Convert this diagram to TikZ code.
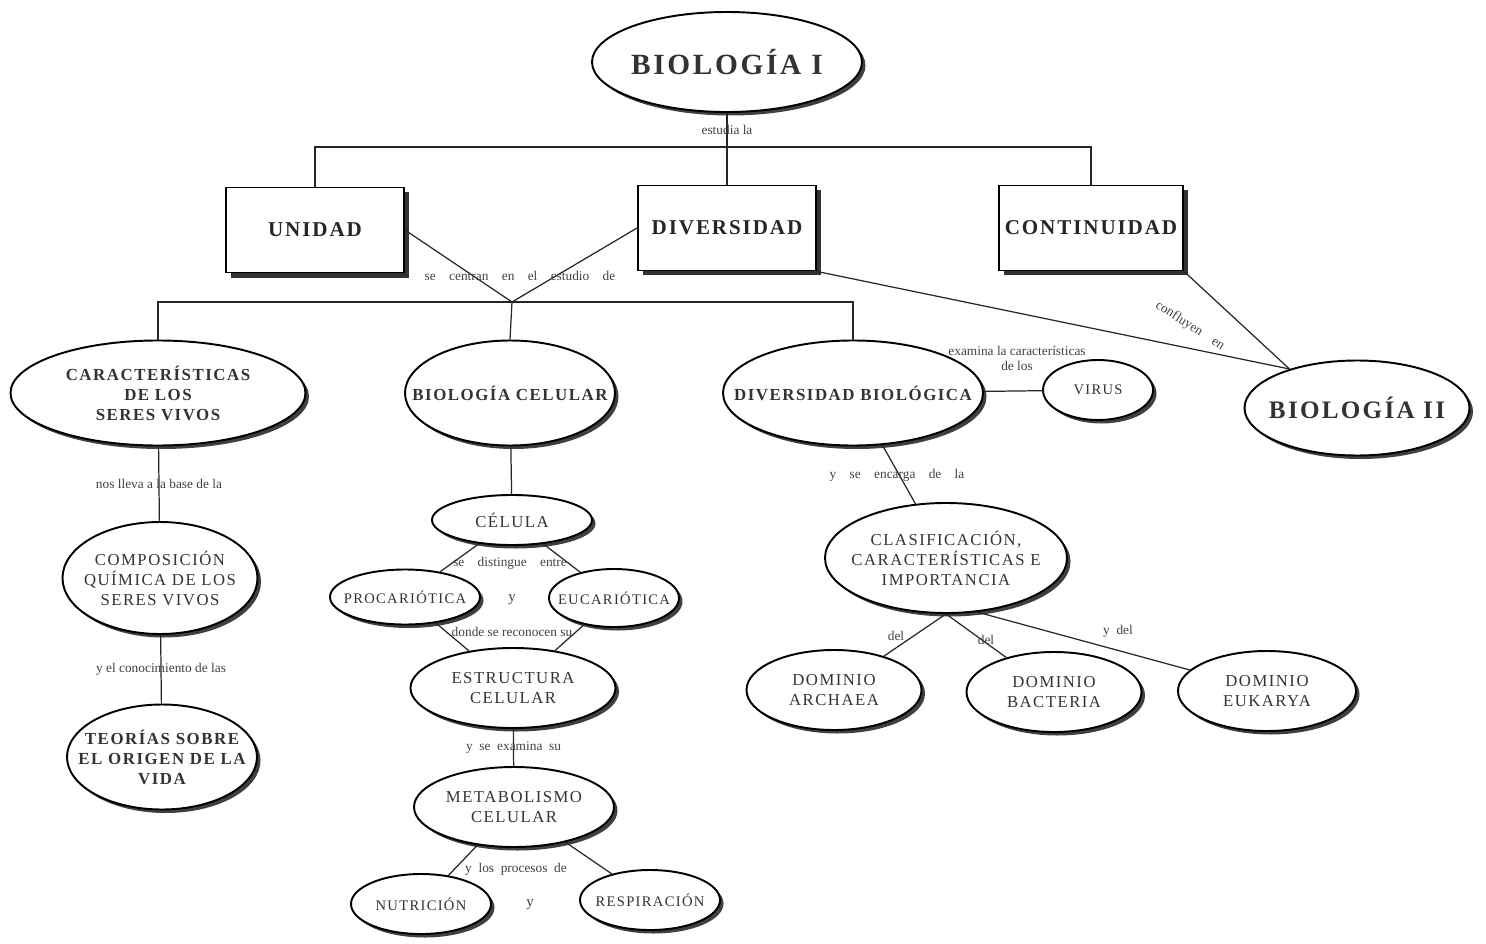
\documentclass[tikz,border=0pt]{standalone}
\usepackage{fontspec}
\usepackage{tikz}
\setmainfont{Liberation Serif}
\newfontfamily\capsfont[LetterSpace=9]{Liberation Serif}
\usetikzlibrary{shapes.geometric,shadows,positioning}

\newcommand{\ftTitle}{\capsfont\bfseries\fontsize{16.7}{18}\selectfont}
\newcommand{\ftBox}{\capsfont\bfseries\fontsize{12}{14}\selectfont}
\newcommand{\ftMain}{\capsfont\bfseries\fontsize{9.6}{11.4}\selectfont}
\newcommand{\ftSub}{\capsfont\fontsize{9.5}{11.4}\selectfont}
\newcommand{\ftLeaf}{\capsfont\fontsize{8.3}{10}\selectfont}
\newcommand{\ftLink}{\fontsize{7.6}{8.6}\selectfont}

\tikzset{
    concept/.style={
           ellipse,
           draw=black, line width=1.1pt,
           fill=white,
           drop shadow={shadow xshift=0.7mm, shadow yshift=-0.7mm, fill=black, opacity=0.75},
           inner xsep=-25mm,   % size comes from minimum width/height only
           inner ysep=-8mm,
           align=center,
           text=black!80,
           },
    topic/.style={
           rectangle,
           draw=black, line width=1.1pt,
           fill=white,
           drop shadow={shadow xshift=1mm, shadow yshift=-1mm, fill=black, opacity=0.8},
           minimum width=35.6mm,
           minimum height=17mm,
           font=\ftBox,
           text=black!85,
           },
    link/.style={
           font=\ftLink,
           text=black!75,
           inner sep=1pt,
           align=center,
           },
    conn/.style={draw=black!85, line width=0.7pt},
}

\begin{document}
\begin{tikzpicture}[x=0.2mm, y=-0.2mm]
    \useasboundingbox (0,0) rectangle (1486,944);

    % top of the map
    \node[concept, minimum width=54mm, minimum height=20mm, font=\ftTitle] (bioI) at (727,62) {BIOLOGÍA I};

    % the three boxes
    \node[topic] (unidad) at (315,230) {UNIDAD};
    \node[topic] (diversidad) at (727,228) {DIVERSIDAD};
    \node[topic] (continuidad) at (1091,228) {CONTINUIDAD};

    % second level
    \node[concept, font=\ftMain,
    minimum width=59mm, minimum height=21mm] (caract) 	% wide one on the left
    at (158,393) {CARACTERÍSTICAS\\DE LOS\\SERES VIVOS};

    \node[concept, font=\ftMain,
    minimum width=42mm, minimum height=21mm] (biocel)
    at (510,393) {BIOLOGÍA CELULAR};

    \node[concept, font=\ftMain,
    minimum width=52mm, minimum height=21mm] (divbio)
    at (853,393) {DIVERSIDAD BIOLÓGICA};

    \node[concept, font=\ftLeaf,
    minimum width=22mm, minimum height=12mm] (virus)
    at (1098,390) {VIRUS};

    \node[concept, font=\capsfont\bfseries\fontsize{14.3}{16}\selectfont,
    minimum width=45mm, minimum height=19mm] (bioII)
    at (1357,408) {BIOLOGÍA II};

    % left column
    \node[concept, font=\ftSub,
    minimum width=39mm, minimum height=22.4mm] (compo)
    at (160,578) {COMPOSICIÓN\\QUÍMICA DE LOS\\SERES VIVOS};

    \node[concept, font=\ftMain,
    minimum width=38mm, minimum height=21mm] (teorias)
    at (162,757) {TEORÍAS SOBRE\\EL ORIGEN DE LA\\VIDA};

    % middle column
    \node[concept, font=\ftSub, minimum width=32mm, minimum height=10mm] (celula) at (512,520) {CÉLULA};
    \node[concept, font=\ftLeaf, minimum width=30mm, minimum height=11mm] (proca) at (405,597) {PROCARIÓTICA};
    \node[concept, font=\ftLeaf, minimum width=26mm, minimum height=11.6mm] (euca) at (614,598) {EUCARIÓTICA};
    \node[concept, font=\ftSub, minimum width=41mm, minimum height=16mm] (estruc) at (513,688) {ESTRUCTURA\\CELULAR};
    \node[concept, font=\ftSub, minimum width=40mm, minimum height=16mm] (metab) at (514,807) {METABOLISMO\\CELULAR};
    \node[concept, font=\ftLeaf, minimum width=28mm, minimum height=12mm] (nutri) at (421,904) {NUTRICIÓN};
    \node[concept, font=\ftLeaf, minimum width=28mm, minimum height=12mm] (respi) at (650,900) {RESPIRACIÓN};

    % right column
    \node[concept, font=\ftSub, minimum width=48.4mm, minimum height=22mm] (clasif) at (946,558) {CLASIFICACIÓN,\\CARACTERÍSTICAS E\\IMPORTANCIA};
    \node[concept, font=\ftSub, minimum width=35mm, minimum height=16mm] (archaea) at (834,690) {DOMINIO\\ARCHAEA};
    \node[concept, font=\ftSub, minimum width=35mm, minimum height=16mm] (bacteria) at (1054,692) {DOMINIO\\BACTERIA};
    \node[concept, font=\ftSub, minimum width=35.6mm, minimum height=16mm] (eukarya) at (1267,691) {DOMINIO\\EUKARYA};

    % bars
    \coordinate (topbar) at (727,147);
    \coordinate (jn) at (512,302);

    \draw[conn] (bioI) -- (diversidad);
    \draw[conn] (unidad.north) |- (topbar) -| (continuidad.north);
    \draw[conn] (unidad.east) -- (jn) -- (diversidad.west);
    \draw[conn] (caract.north) |- (jn) -| (divbio.north);
    \draw[conn] (jn) -- (biocel.north);
    \draw[conn] (diversidad.south east) -- (bioII.150);
    \draw[conn] (continuidad.south east) -- (bioII.150);

    % the paths and the small texts
    \path[conn]
        (caract)   edge node[link] {nos lleva a la base de la} (compo)
        (compo)    edge node[link] {y el conocimiento de las} (teorias)
        (biocel)   edge (celula)
        (celula)   edge (proca)
        (celula)   edge (euca)
        (proca)    edge (estruc)
        (euca)     edge (estruc)
        (estruc)   edge node[link] {y\enspace se\enspace examina\enspace su} (metab)
        (metab)    edge (nutri)
        (metab)    edge (respi)
        (divbio)   edge (virus)
        (divbio)   edge (clasif)
        (clasif.south) edge (archaea)
        (clasif.south) edge (bacteria)
        (clasif.-60)   edge (eukarya)
        ;

    \node[link] (lblestudia) at (727,130) {estudia la};
    \node[link] (lblcentran) at (520,276) {se\quad centran\quad en\quad el\quad estudio\quad de};
    \node[link, rotate=-33] (lblconfl) at (1190,326) {confluyen\quad en};
    \node[link] (lblexamina) at (1017,358) {examina la características\\de los};
    \node[link] (lbldist) at (510,563) {se\quad distingue\quad entre};
    \node[link, font=\fontsize{8.5}{9}\selectfont] (lbly1) at (512,600) {y};
    \node[link] (lbldonde) at (512,632) {donde se reconocen su};
    \node[link] (lblproc) at (516,869) {y\enspace los\enspace procesos\enspace de};
    \node[link, font=\fontsize{8.5}{9}\selectfont] (lbly2) at (530,905) {y};
    \node[link] (lblencarga) at (897,475) {y\quad se\quad encarga\quad de\quad la};
    \node[link] (lbldel1) at (896,636) {del};
    \node[link] (lbldel2) at (986,640) {del};
    \node[link] (lblydel) at (1118,631) {y\enspace del};
\end{tikzpicture}
\end{document}
